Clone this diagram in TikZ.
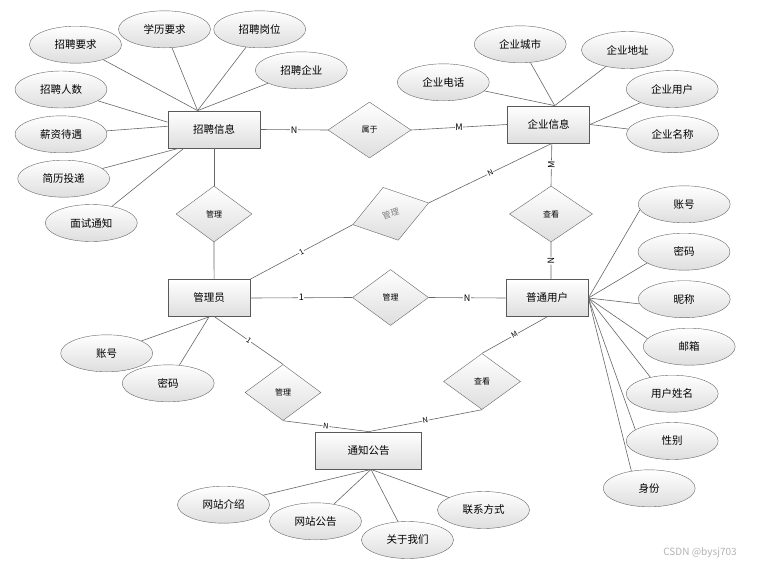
\documentclass[tikz,border=0pt]{standalone}
\usepackage{fontspec}
\setmainfont{Noto Sans CJK SC}
\usetikzlibrary{shapes}

\begin{document}
\begin{tikzpicture}[x=1pt,y=-1pt]
\tikzset{
	entity/.style={draw=black!65,
		rectangle,
		top color=white,
		bottom color=black!13,
		line width=0.8pt,
		minimum width=82pt,
		minimum height=37pt,
		font=\fontsize{10.5}{12}\selectfont},
	attr/.style={draw=black!60,
		ellipse,
		top color=white,
		bottom color=black!13,
		inner sep=0pt,
		minimum width=92pt,
		minimum height=37pt,
		font=\fontsize{10.5}{12}\selectfont},
	rel/.style={draw=black!60,
		diamond,
		top color=white,
		bottom color=black!13,
		inner sep=0pt,
		minimum width=77pt,
		minimum height=56pt,
		font=\fontsize{8}{9}\selectfont},
	link/.style={draw=black!60, line width=0.6pt},
	card/.style={midway, fill=white, inner sep=0.6pt, font=\fontsize{9}{9}\selectfont},
	cardsl/.style={card, sloped, font=\fontsize{7.5}{7.5}\selectfont},
	cardup/.style={card, sloped},
}
\useasboundingbox (0,0) rectangle (761,566);
% entities
\node[entity, minimum width=92pt] (ZPXX) at (214,129.5) {招聘信息};
\node[entity] (QYXX) at (548.5,124.5) {企业信息};
\node[entity] (GLY) at (209,298) {管理员};
\node[entity] (PTYH) at (547,298) {普通用户};
\node[entity, minimum width=106pt] (TZGG) at (368.7,450.5) {通知公告};
% relations
\node[rel, minimum width=83pt] (SY) at (369.5,130) {属于};
\node[rel, minimum width=76pt] (GLA) at (214,214) {管理};
\node[rel, minimum width=83pt] (CKA) at (551,214) {查看};
\node[rel, minimum width=79pt, minimum height=55pt, rotate=16, text=black!50, font=\fontsize{8.5}{9}\selectfont] (GLB) at (390.7,213.8) {管理};
\node[rel, minimum width=76pt] (GLC) at (390.5,297.5) {管理};
\node[rel, minimum width=76pt] (GLD) at (283,392.5) {管理};
\node[rel] (CKB) at (482,381.5) {查看};
% attributes of 招聘信息
\node[attr] (ZPYQ) at (75.5,44.7) {招聘要求};
\node[attr] (XLYQ) at (164.5,29.3) {学历要求};
\node[attr] (ZPGW) at (259.7,29.3) {招聘岗位};
\node[attr] (ZPQY) at (301.3,70.3) {招聘企业};
\node[attr] (ZPRS) at (61,89.5) {招聘人数};
\node[attr] (XZDY) at (61,134.3) {薪资待遇};
\node[attr] (JLTD) at (63.7,178.7) {简历投递};
\node[attr] (MSTZ) at (91.3,223) {面试通知};
% attributes of 企业信息
\node[attr] (QYCS) at (520.2,44.3) {企业城市};
\node[attr] (QYDZ) at (627.5,50) {企业地址};
\node[attr] (QYDH) at (443.3,82.3) {企业电话};
\node[attr] (QYYH) at (672.2,89) {企业用户};
\node[attr] (QYMC) at (672.5,134.2) {企业名称};
% attributes of 普通用户
\node[attr] (YHZH) at (684.2,204.3) {账号};
\node[attr] (YHMM) at (684,251.7) {密码};
\node[attr] (YHNC) at (684.2,299.2) {昵称};
\node[attr] (YHYX) at (689.2,346.7) {邮箱};
\node[attr] (YHXM) at (672.2,393.7) {用户姓名};
\node[attr] (YHXB) at (672.2,441) {性别};
\node[attr] (YHSF) at (649.2,488.3) {身份};
% attributes of 管理员
\node[attr] (GLZH) at (106.7,353.3) {账号};
\node[attr] (GLMM) at (168.2,383.3) {密码};
% attributes of 通知公告
\node[attr] (WZJS) at (223.5,504.7) {网站介绍};
\node[attr] (WZGG) at (315.5,521.3) {网站公告};
\node[attr] (GYWM) at (407.5,540) {关于我们};
\node[attr] (LXFS) at (483.5,510) {联系方式};
\node[text=black!30, font=\fontsize{10}{10}\selectfont] (WMK) at (700,553) {CSDN @bysj703};

{\draw[link] (ZPYQ) -- (ZPXX.131);}
{\draw[link] (XLYQ) -- (ZPXX.131);}
{\draw[link] (ZPGW) -- (ZPXX.131);}
{\draw[link] (ZPQY) -- (ZPXX.131);}
{\draw[link] (ZPRS) -- (ZPXX.171.5);}
{\draw[link] (XZDY) -- (ZPXX.176.5);}
{\draw[link] (JLTD) -- (ZPXX.208.5);}
{\draw[link] (MSTZ) -- (ZPXX.212.5);}

{\draw[link] (QYDH) -- (QYXX.72);}
{\draw[link] (QYCS) -- (QYXX.72);}
{\draw[link] (QYDZ) -- (QYXX.72);}
{\draw[link] (QYYH) -- (QYXX.east);}
{\draw[link] (QYMC) -- (QYXX.east);}

{\draw[link] (YHZH.187) -- (PTYH.east);}
{\draw[link] (YHMM.197) -- (PTYH.east);}
{\draw[link] (YHNC.186) -- (PTYH.east);}
{\draw[link] (YHYX.169) -- (PTYH.east);}
{\draw[link] (YHXM.143) -- (PTYH.east);}
{\draw[link] (YHXB.163.5) -- (PTYH.east);}
{\draw[link] (YHSF.136) -- (PTYH.east);}

{\draw[link] (GLZH) -- (GLY.south);}
{\draw[link] (GLMM) -- (GLY.south);}

{\draw[link] (WZJS) -- (TZGG.277);}
{\draw[link] (WZGG) -- (TZGG.277);}
{\draw[link] (GYWM) -- (TZGG.277);}
{\draw[link] (LXFS) -- (TZGG.277);}

% relationships
{\draw[link] (ZPXX.east) -- (SY.west) node[card] {N};}
{\draw[link] (SY.east) -- (QYXX.west) node[card] {M};}
{\draw[link] (ZPXX.south) -- (GLA.north);}
{\draw[link] (GLA.south) -- (GLY.75);}
{\draw[link] (QYXX.280) -- (CKA.north) node[cardup] {M};}
{\draw[link] (CKA.south) -- (PTYH.78) node[cardup] {N};}
{\draw[link] (GLY.north east) -- (GLB.west) node[cardsl] {1};}
{\draw[link] (GLB.east) -- (QYXX.280) node[cardsl] {N};}
{\draw[link] (GLY.east) -- (GLC.west) node[card] {1};}
{\draw[link] (GLC.east) -- (PTYH.west) node[card] {N};}
{\draw[link] (GLY.287) -- (GLD.north) node[cardsl] {1};}
{\draw[link] (GLD.south) -- (TZGG.north) node[cardsl] {N};}
{\draw[link] (PTYH.south) -- (CKB.north) node[cardsl] {M};}
{\draw[link] (CKB.south) -- (TZGG.north) node[cardsl] {N};}

\end{tikzpicture}
\end{document}
